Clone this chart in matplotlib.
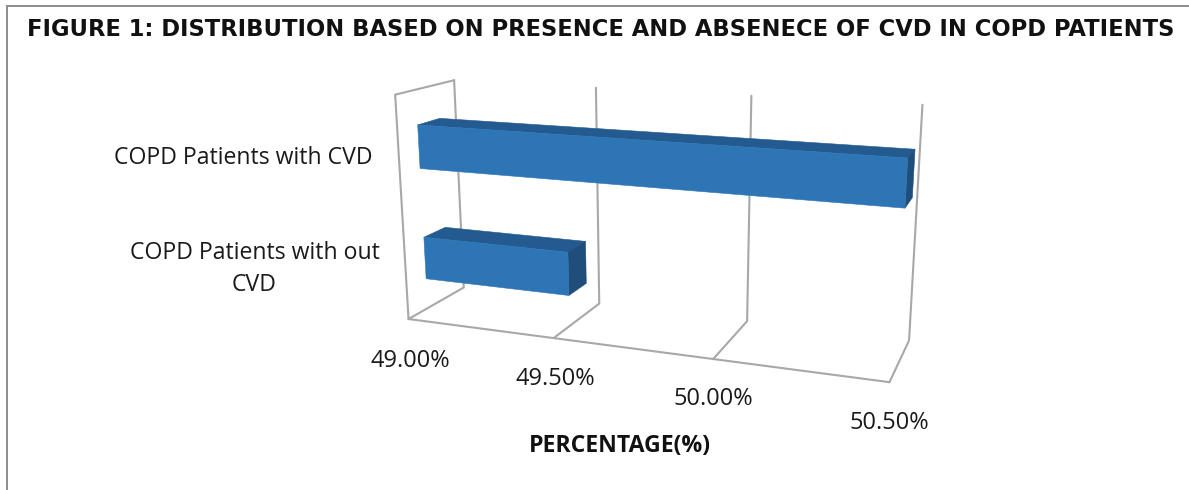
import numpy as np
import matplotlib
matplotlib.use('Agg')
import matplotlib.pyplot as plt
from matplotlib.patches import Polygon

title = 'FIGURE 1: DISTRIBUTION BASED ON PRESENCE AND ABSENECE OF CVD IN COPD PATIENTS'
categories = ['COPD Patients with CVD', 'COPD Patients with out\nCVD']
values = [50.5, 49.5]
ticks = [49.0, 49.5, 50.0, 50.5]
tick_labels = ['49.00%', '49.50%', '50.00%', '50.50%']
xlabel = 'PERCENTAGE(%)'

W, H = 1189, 490
V0, V1 = ticks[0], ticks[-1]

# camera fit: box coords (value, depth, height) -> pixel position on the sheet
calib = [
    (49.0, 0, 0, 408, 319), (49.5, 0, 0, 554, 338), (50.0, 0, 0, 714, 359), (50.5, 0, 0, 889, 382),
    (49.0, 1, 0, 464, 287), (49.5, 1, 0, 599, 303), (50.0, 1, 0, 747, 322), (50.5, 1, 0, 909, 341),
    (49.0, 1, 1, 454, 81), (49.5, 1, 1, 596, 87), (50.0, 1, 1, 752, 96), (50.5, 1, 1, 922, 104),
    (49.0, 0, 1, 395, 95),
]
rows = []
for v, d, z, px, py in calib:
    p = [(v - V0) / (V1 - V0), d, z, 1]
    rows.append(p + [0, 0, 0, 0] + [-px * c for c in p])
    rows.append([0, 0, 0, 0] + p + [-py * c for c in p])
cam = np.linalg.svd(np.array(rows, dtype=float))[2][-1].reshape(3, 4)


def project(v, d, z):
    q = cam @ np.array([(v - V0) / (V1 - V0), d, z, 1.0])
    return q[0] / q[2], q[1] / q[2]


fig = plt.figure(figsize=(W / 100, H / 100), dpi=100)
ax = fig.add_axes([0, 0, 1, 1])
ax.set_xlim(0, W)
ax.set_ylim(H, 0)
ax.axis('off')

# sheet border, left and top only
ax.plot([6.5, 6.5, W], [H, 6, 6], color='#8c8c8c', lw=1.4, solid_joinstyle='miter')

grid_kw = dict(color='#a8a8a8', lw=1.5, solid_capstyle='round', solid_joinstyle='miter', zorder=1)
for t in ticks:
    pts = [project(t, 0, 0), project(t, 1, 0), project(t, 1, 1)]
    ax.plot(*zip(*pts), **grid_kw)
ax.plot(*zip(project(V0, 0, 0), project(V1, 0, 0)), **grid_kw)
ax.plot(*zip(project(V0, 0, 0), project(V0, 0, 1), project(V0, 1, 1)), **grid_kw)

FRONT, TOP, SIDE = '#2e75b6', '#235a8f', '#1e4e79'
d0, d1 = 0.33, 0.71
z_ranges = [(0.65, 0.845), (0.14, 0.335)]

for val, (z0, z1) in zip(values, z_ranges):
    faces = [
        (TOP, [(V0, d0, z1), (val, d0, z1), (val, d1, z1), (V0, d1, z1)]),
        (SIDE, [(val, d0, z0), (val, d1, z0), (val, d1, z1), (val, d0, z1)]),
        (FRONT, [(V0, d0, z0), (val, d0, z0), (val, d0, z1), (V0, d0, z1)]),
    ]
    for col, corners in faces:
        ax.add_patch(Polygon([project(*c) for c in corners], closed=True,
                             facecolor=col, edgecolor=col, lw=0.4, zorder=3))

ax.text(601, 29, title, ha='center', va='center', fontsize=16.3, fontweight='bold',
        family='DejaVu Sans', color='#111111')

label_font = 'Open Sans'
ax.text(243.5, 158, categories[0], ha='center', va='center', fontsize=16.6,
        family=label_font, color='#1a1a1a')
ax.text(254.5, 269, categories[1], ha='center', va='center', fontsize=16.6,
        family=label_font, color='#1a1a1a', linespacing=1.4)

tick_pos = [(410, 361), (555, 379), (713, 399), (889, 423)]
for (x, y), s in zip(tick_pos, tick_labels):
    ax.text(x, y, s, ha='center', va='center', fontsize=17, family=label_font, color='#1a1a1a')

ax.text(620, 446, xlabel, ha='center', va='center', fontsize=16.6, fontweight='bold',
        family=label_font, color='#111111')

fig.savefig('out.png', dpi=100, facecolor='white')
